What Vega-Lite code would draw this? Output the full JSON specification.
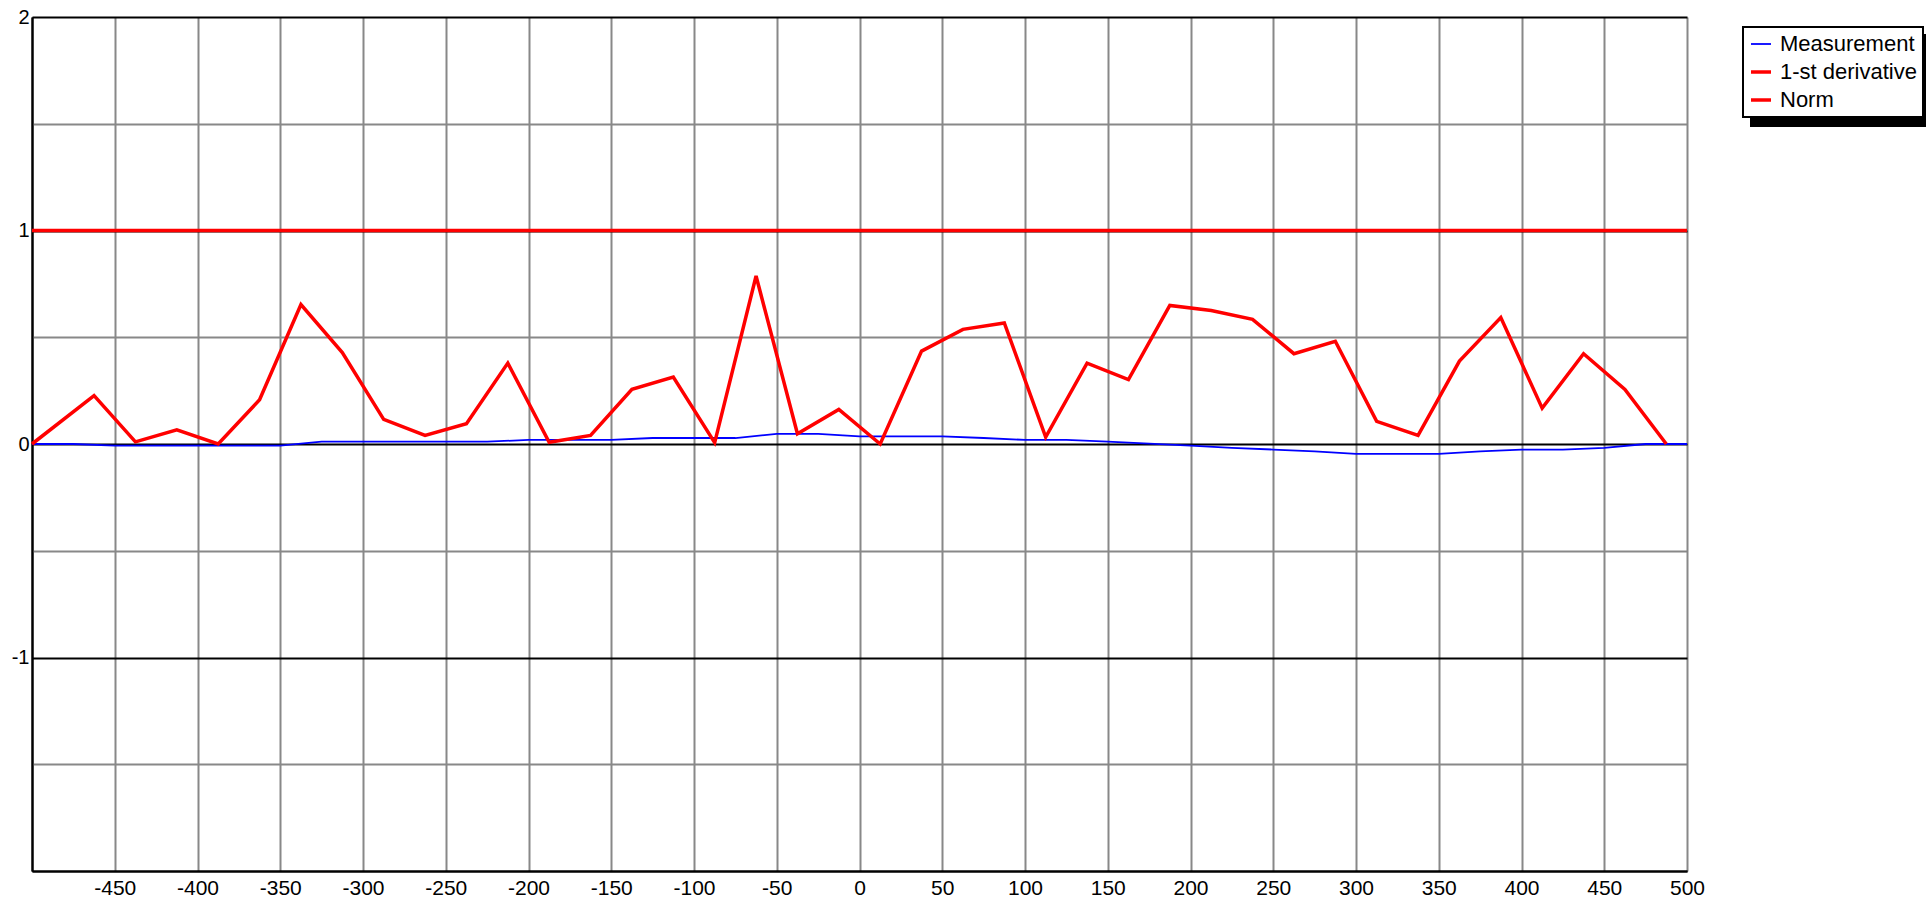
{
  "$schema": "https://vega.github.io/schema/vega-lite/v6.json",
  "width": 1655,
  "height": 854,
  "autosize": {"type": "none"},
  "padding": {"left": 32, "top": 17, "right": 245, "bottom": 27},
  "background": "white",
  "config": {"view": {"stroke": null}, "font": "Liberation Sans"},
  "datasets": {
    "rows": [
      {"x": -500, "y": 0, "series": "Measurement"},
      {"x": -475, "y": 0, "series": "Measurement"},
      {"x": -450, "y": -0.008, "series": "Measurement"},
      {"x": -425, "y": -0.008, "series": "Measurement"},
      {"x": -400, "y": -0.008, "series": "Measurement"},
      {"x": -375, "y": -0.008, "series": "Measurement"},
      {"x": -350, "y": -0.008, "series": "Measurement"},
      {"x": -325, "y": 0.011, "series": "Measurement"},
      {"x": -300, "y": 0.011, "series": "Measurement"},
      {"x": -275, "y": 0.011, "series": "Measurement"},
      {"x": -250, "y": 0.011, "series": "Measurement"},
      {"x": -225, "y": 0.011, "series": "Measurement"},
      {"x": -200, "y": 0.019, "series": "Measurement"},
      {"x": -175, "y": 0.019, "series": "Measurement"},
      {"x": -150, "y": 0.019, "series": "Measurement"},
      {"x": -125, "y": 0.028, "series": "Measurement"},
      {"x": -100, "y": 0.028, "series": "Measurement"},
      {"x": -75, "y": 0.028, "series": "Measurement"},
      {"x": -50, "y": 0.047, "series": "Measurement"},
      {"x": -25, "y": 0.047, "series": "Measurement"},
      {"x": 0, "y": 0.036, "series": "Measurement"},
      {"x": 25, "y": 0.036, "series": "Measurement"},
      {"x": 50, "y": 0.036, "series": "Measurement"},
      {"x": 75, "y": 0.028, "series": "Measurement"},
      {"x": 100, "y": 0.019, "series": "Measurement"},
      {"x": 125, "y": 0.019, "series": "Measurement"},
      {"x": 150, "y": 0.011, "series": "Measurement"},
      {"x": 175, "y": 0.002, "series": "Measurement"},
      {"x": 200, "y": -0.008, "series": "Measurement"},
      {"x": 225, "y": -0.018, "series": "Measurement"},
      {"x": 250, "y": -0.026, "series": "Measurement"},
      {"x": 275, "y": -0.035, "series": "Measurement"},
      {"x": 300, "y": -0.046, "series": "Measurement"},
      {"x": 325, "y": -0.046, "series": "Measurement"},
      {"x": 350, "y": -0.046, "series": "Measurement"},
      {"x": 375, "y": -0.035, "series": "Measurement"},
      {"x": 400, "y": -0.026, "series": "Measurement"},
      {"x": 425, "y": -0.026, "series": "Measurement"},
      {"x": 450, "y": -0.018, "series": "Measurement"},
      {"x": 475, "y": 0, "series": "Measurement"},
      {"x": 500, "y": 0, "series": "Measurement"},
      {"x": -500, "y": 0, "series": "1-st derivative"},
      {"x": -462.5, "y": 0.227, "series": "1-st derivative"},
      {"x": -437.5, "y": 0.01, "series": "1-st derivative"},
      {"x": -412.5, "y": 0.066, "series": "1-st derivative"},
      {"x": -387.5, "y": 0.0, "series": "1-st derivative"},
      {"x": -362.5, "y": 0.207, "series": "1-st derivative"},
      {"x": -337.5, "y": 0.653, "series": "1-st derivative"},
      {"x": -312.5, "y": 0.428, "series": "1-st derivative"},
      {"x": -287.5, "y": 0.115, "series": "1-st derivative"},
      {"x": -262.5, "y": 0.04, "series": "1-st derivative"},
      {"x": -237.5, "y": 0.095, "series": "1-st derivative"},
      {"x": -212.5, "y": 0.379, "series": "1-st derivative"},
      {"x": -187.5, "y": 0.008, "series": "1-st derivative"},
      {"x": -162.5, "y": 0.04, "series": "1-st derivative"},
      {"x": -137.5, "y": 0.256, "series": "1-st derivative"},
      {"x": -112.5, "y": 0.313, "series": "1-st derivative"},
      {"x": -87.5, "y": 0.006, "series": "1-st derivative"},
      {"x": -62.5, "y": 0.787, "series": "1-st derivative"},
      {"x": -37.5, "y": 0.048, "series": "1-st derivative"},
      {"x": -12.5, "y": 0.162, "series": "1-st derivative"},
      {"x": 12.5, "y": 0.0, "series": "1-st derivative"},
      {"x": 37.5, "y": 0.435, "series": "1-st derivative"},
      {"x": 62.5, "y": 0.537, "series": "1-st derivative"},
      {"x": 87.5, "y": 0.567, "series": "1-st derivative"},
      {"x": 112.5, "y": 0.032, "series": "1-st derivative"},
      {"x": 137.5, "y": 0.379, "series": "1-st derivative"},
      {"x": 162.5, "y": 0.302, "series": "1-st derivative"},
      {"x": 187.5, "y": 0.649, "series": "1-st derivative"},
      {"x": 212.5, "y": 0.625, "series": "1-st derivative"},
      {"x": 237.5, "y": 0.584, "series": "1-st derivative"},
      {"x": 262.5, "y": 0.423, "series": "1-st derivative"},
      {"x": 287.5, "y": 0.481, "series": "1-st derivative"},
      {"x": 312.5, "y": 0.106, "series": "1-st derivative"},
      {"x": 337.5, "y": 0.04, "series": "1-st derivative"},
      {"x": 362.5, "y": 0.388, "series": "1-st derivative"},
      {"x": 387.5, "y": 0.592, "series": "1-st derivative"},
      {"x": 412.5, "y": 0.168, "series": "1-st derivative"},
      {"x": 437.5, "y": 0.423, "series": "1-st derivative"},
      {"x": 462.5, "y": 0.256, "series": "1-st derivative"},
      {"x": 487.5, "y": 0, "series": "1-st derivative"},
      {"x": -500, "y": 1, "series": "Norm"},
      {"x": 500, "y": 1, "series": "Norm"}
    ]
  },
  "data": {"name": "rows"},
  "mark": {"type": "line"},
  "encoding": {
    "x": {
      "field": "x", "type": "quantitative",
      "scale": {"domain": [-500, 500], "nice": false, "zero": false},
      "axis": {
        "title": null,
        "values": [-500, -450, -400, -350, -300, -250, -200, -150, -100, -50, 0, 50, 100, 150, 200, 250, 300, 350, 400, 450, 500],
        "labelExpr": "datum.value == -500 ? '' : '' + datum.value",
        "grid": true,
        "gridColor": {"condition": {"test": "datum.value == -500", "value": "black"}, "value": "#888888"},
        "gridWidth": 2,
        "domainColor": "black", "domainWidth": 2,
        "ticks": false,
        "labelFontSize": 21, "labelColor": "black", "labelPadding": 6,
        "labelFlush": false, "labelOverlap": false
      }
    },
    "y": {
      "field": "y", "type": "quantitative",
      "scale": {"domain": [-2, 2], "nice": false, "zero": false},
      "axis": {
        "title": null,
        "values": [-2, -1.5, -1, -0.5, 0, 0.5, 1, 1.5, 2],
        "labelExpr": "datum.value % 1 == 0 && datum.value > -2 ? '' + datum.value : ''",
        "grid": true,
        "gridColor": {"condition": {"test": "datum.value % 1 == 0", "value": "black"}, "value": "#888888"},
        "gridWidth": 2,
        "domainColor": "black", "domainWidth": 2,
        "ticks": false,
        "labelFontSize": 20, "labelColor": "black", "labelPadding": 3,
        "labelFlush": false, "labelOverlap": false
      }
    },
    "color": {
      "field": "series", "type": "nominal",
      "scale": {"domain": ["Measurement", "1-st derivative", "Norm"], "range": ["#0000ff", "#ff0000", "#ff0000"]},
      "legend": {
        "title": null, "orient": "none", "legendX": 1711, "legendY": 10,
        "symbolType": "stroke", "symbolSize": 400,
        "labelFontSize": 22, "labelFont": "Liberation Sans", "labelColor": "black", "labelLimit": 400,
        "labelOffset": 7, "padding": 6, "rowPadding": 5,
        "fillColor": "white", "strokeColor": "black", "zindex": 2,
        "encode": {"legend": {"update": {"strokeWidth": {"value": 2}}}}
      }
    },
    "strokeWidth": {
      "field": "series", "type": "nominal",
      "scale": {"type": "ordinal", "domain": ["Measurement", "1-st derivative", "Norm"], "range": [1.8, 3.5, 3.5]}
    },
    "opacity": {
      "field": "series", "type": "nominal",
      "scale": {"type": "ordinal", "domain": ["Norm", "1-st derivative", "Measurement"], "range": [1, 1, 1]},
      "legend": {
        "title": null, "orient": "none", "legendX": 1719, "legendY": 18,
        "symbolType": "stroke", "symbolSize": 400, "symbolStrokeColor": "black", "symbolStrokeWidth": 3.5,
        "labelExpr": "' '",
        "labelFontSize": 22, "labelFont": "Liberation Sans", "labelColor": "black", "labelLimit": 400,
        "labelOffset": 137.8, "padding": 6, "rowPadding": 5,
        "fillColor": "black", "strokeColor": "black", "zindex": 1,
        "encode": {"legend": {"update": {"strokeWidth": {"value": 2}}}}
      }
    }
  }
}
